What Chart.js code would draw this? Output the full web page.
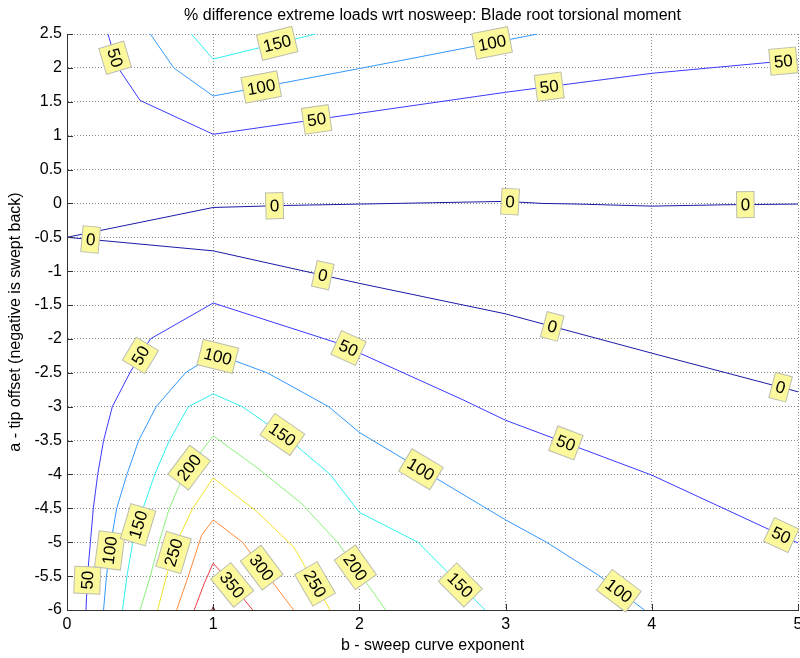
<!DOCTYPE html>
<html>
<head>
<meta charset="utf-8">
<title>Blade root torsional moment</title>
<script src="https://cdn.jsdelivr.net/npm/chart.js@4.4.0/dist/chart.umd.min.js"></script>
<style>
	html, body { margin: 0; padding: 0; background: #fff; }
	canvas { display: block; }
</style>
</head>
<body>
<canvas id="contourChart" width="800" height="658"></canvas>
<script>
const xTicks = [0, 1, 2, 3, 4, 5];
const yTicks = [2.5, 2, 1.5, 1, 0.5, 0, -0.5, -1, -1.5, -2, -2.5, -3, -3.5, -4, -4.5, -5, -5.5, -6];

// contour levels (% difference) and the jet colours used for them
const levels = [0, 50, 100, 150, 200, 250, 300, 350, 400];
const levelColors = ['#1a1aa8', '#3a3aff', '#3399ff', '#30f0f0', '#8cf07c', '#f2e22a', '#ff8a3a', '#f03c46', '#8b1a1a'];

// contour polylines as [b, a] pairs
const zeroUpper = [[0, -0.5], [1, -0.06], [1.5, -0.03], [2, -0.01], [2.5, 0.01], [3, 0.03], [3.25, 0.0], [3.5, -0.01], [4, -0.04], [4.5, -0.02], [5, -0.01]];
const zeroLower = [[0, -0.5], [1, -0.7], [2, -1.18], [3, -1.63], [4, -2.21], [5, -2.78]];
const fiftyTop = [[0.28, 2.5], [0.35, 2.0], [0.5, 1.52], [1, 1.02], [2, 1.33], [3, 1.64], [4, 1.92], [5, 2.12]];
const fiftyLow = [[0.13, -6], [0.14, -5.5], [0.16, -5], [0.18, -4.5], [0.21, -4], [0.25, -3.5], [0.31, -3], [0.43, -2.5], [0.57, -2], [1, -1.47], [1.85, -2.06], [2.71, -2.9], [3, -3.2], [4, -4.01], [5, -5.01]];
const hundredTop = [[0.57, 2.5], [0.73, 2.0], [1, 1.585], [2, 1.99], [3.22, 2.5]];
const hundredLow = [[0.25, -6], [0.27, -5.5], [0.3, -5], [0.34, -4.5], [0.41, -4], [0.49, -3.5], [0.61, -3], [0.81, -2.5], [1, -2.24], [1.13, -2.31], [1.37, -2.5], [1.79, -3], [2, -3.38], [3, -4.67], [3.28, -5], [3.63, -5.48], [3.95, -6]];
const oneFiftyTop = [[0.85, 2.5], [1, 2.13], [1.7, 2.5]];
const oneFiftyLow = [[0.38, -6], [0.41, -5.5], [0.45, -5], [0.52, -4.5], [0.6, -4], [0.7, -3.5], [0.83, -3], [1, -2.81], [1.2, -3.0], [1.5, -3.45], [1.8, -4.0], [2, -4.56], [2.4, -5], [2.86, -6]];
const twoHundred = [[0.5, -6], [0.57, -5.5], [0.63, -5], [0.7, -4.5], [0.8, -4], [1, -3.43], [1.3, -3.9], [1.6, -4.42], [1.85, -5], [2.18, -6]];
const twoFifty = [[0.62, -6], [0.68, -5.5], [0.75, -5], [0.86, -4.5], [1, -4.05], [1.3, -4.55], [1.55, -5.07], [1.8, -6]];
const threeHundred = [[0.75, -6], [0.83, -5.5], [0.92, -4.9], [1, -4.67], [1.2, -5.0], [1.55, -6]];
const threeFifty = [[0.87, -6], [0.94, -5.6], [1, -5.31], [1.1, -5.55], [1.27, -6]];
const fourHundred = [[0.99, -6], [1, -5.95], [1.01, -6]];

const contourLines = [
	[0, zeroUpper], [0, zeroLower],
	[50, fiftyTop], [50, fiftyLow],
	[100, hundredTop], [100, hundredLow],
	[150, oneFiftyTop], [150, oneFiftyLow],
	[200, twoHundred], [250, twoFifty], [300, threeHundred], [350, threeFifty], [400, fourHundred]
];

// where the clabel boxes sit: [line, b, a]
const labelSpots = [
	[fiftyTop, 0.33, 2.15], [fiftyTop, 1.71, 1.2], [fiftyTop, 3.30, 1.70], [fiftyTop, 4.90, 2.09],
	[hundredTop, 1.33, 1.70], [hundredTop, 2.91, 2.34],
	[oneFiftyTop, 1.44, 2.34],
	[zeroUpper, 1.42, -0.07], [zeroUpper, 3.03, 0.0], [zeroUpper, 4.64, -0.04],
	[zeroLower, 0.16, -0.57], [zeroLower, 1.75, -1.06], [zeroLower, 3.32, -1.81], [zeroLower, 4.88, -2.72],
	[fiftyLow, 0.5, -2.24], [fiftyLow, 1.92, -2.16], [fiftyLow, 3.42, -3.49], [fiftyLow, 4.88, -4.92], [fiftyLow, 0.14, -5.56],
	[hundredLow, 1.03, -2.27], [hundredLow, 2.43, -3.89], [hundredLow, 3.78, -5.7], [hundredLow, 0.29, -5.12],
	[oneFiftyLow, 1.47, -3.42], [oneFiftyLow, 0.5, -4.75], [oneFiftyLow, 2.69, -5.63],
	[twoHundred, 0.83, -3.89], [twoHundred, 1.92, -5.45],
	[twoFifty, 0.74, -5.16], [twoFifty, 1.66, -5.66],
	[threeHundred, 1.31, -5.41],
	[threeFifty, 1.13, -5.63]
];

const FONT = '"Liberation Sans", Arial, Helvetica, sans-serif';
const titleText = '% difference extreme loads wrt nosweep: Blade root torsional moment';

function levelOf(pts) {
	return contourLines.find(([, line]) => line === pts)[0];
}

// yellow boxed level labels, rotated along the contour
const contourLabels = {
	id: 'contourLabels',
	afterDatasetsDraw(chart) {
		const ctx = chart.ctx;
		const xs = chart.scales.x;
		const ys = chart.scales.y;
		ctx.save();
		ctx.font = '17px ' + FONT;
		ctx.textAlign = 'center';
		ctx.textBaseline = 'middle';
		labelSpots.forEach(([pts, lx, ly]) => {
			const px = pts.map(([x, y]) => [xs.getPixelForValue(x), ys.getPixelForValue(y)]);
			const tx = xs.getPixelForValue(lx);
			const ty = ys.getPixelForValue(ly);
			// snap onto the nearest segment and follow its direction
			let best = null;
			for (let i = 0; i < px.length - 1; i++) {
				const [x1, y1] = px[i];
				const [x2, y2] = px[i + 1];
				const dx = x2 - x1, dy = y2 - y1;
				const len2 = dx * dx + dy * dy;
				let t = len2 ? ((tx - x1) * dx + (ty - y1) * dy) / len2 : 0;
				t = Math.max(0, Math.min(1, t));
				const cx = x1 + t * dx, cy = y1 + t * dy;
				const d = (cx - tx) ** 2 + (cy - ty) ** 2;
				if (!best || d < best.d) best = { d, cx, cy, a: Math.atan2(dy, dx) };
			}
			let a = best.a;
			if (a > Math.PI / 2) a -= Math.PI;
			if (a < -Math.PI / 2) a += Math.PI;
			const text = String(levelOf(pts));
			const w = ctx.measureText(text).width + 8;
			const h = 26;
			ctx.save();
			ctx.translate(best.cx, best.cy);
			ctx.rotate(a);
			ctx.fillStyle = '#fbf99c';
			ctx.fillRect(-w / 2, -h / 2, w, h);
			ctx.strokeStyle = '#bdbdb0';
			ctx.lineWidth = 1;
			ctx.strokeRect(-w / 2, -h / 2, w, h);
			ctx.fillStyle = '#000';
			ctx.fillText(text, 0, 1);
			ctx.restore();
		});
		ctx.restore();
	}
};

// inward tick marks and the title
const axesDecor = {
	id: 'axesDecor',
	afterDraw(chart) {
		const ctx = chart.ctx;
		const { left, right, top, bottom } = chart.chartArea;
		const xs = chart.scales.x;
		const ys = chart.scales.y;
		ctx.save();
		ctx.strokeStyle = '#333';
		ctx.lineWidth = 1;
		ctx.beginPath();
		xTicks.forEach(v => {
			const x = Math.round(xs.getPixelForValue(v)) + 0.5;
			ctx.moveTo(x, bottom);
			ctx.lineTo(x, bottom - 6);
		});
		yTicks.forEach(v => {
			const y = Math.round(ys.getPixelForValue(v)) + 0.5;
			ctx.moveTo(left, y);
			ctx.lineTo(left + 6, y);
		});
		ctx.stroke();
		ctx.fillStyle = '#000';
		ctx.font = '16px ' + FONT;
		ctx.textAlign = 'center';
		ctx.textBaseline = 'middle';
		ctx.fillText(titleText, (left + right) / 2, top - 18);
		ctx.restore();
	}
};

const datasets = contourLines.map(([lvl, pts]) => ({
	data: pts.map(([x, y]) => ({ x, y })),
	borderColor: levelColors[levels.indexOf(lvl)],
	borderWidth: 1,
	pointRadius: 0,
	showLine: true,
	fill: false,
	tension: 0
}));

const config = {
	type: 'scatter',
	data: { datasets },
	options: {
		responsive: false,
		animation: false,
		layout: { padding: { top: 34, right: 2, bottom: 0, left: 0 } },
		plugins: {
			legend: { display: false },
			tooltip: { enabled: false }
		},
		scales: {
			x: {
				type: 'linear',
				min: 0,
				max: 5,
				afterBuildTicks: s => { s.ticks = xTicks.map(v => ({ value: v })); },
				afterFit: s => { s.height = 48; s.paddingLeft = 0; s.paddingRight = 0; },
				ticks: {
					color: '#000',
					font: { family: FONT, size: 16 },
					padding: 5,
					maxRotation: 0,
					autoSkip: false,
					callback: v => String(v)
				},
				grid: { color: '#8c8c8c', lineWidth: 1, drawTicks: false },
				border: { display: true, color: '#333', width: 1, dash: [1, 2] },
				title: {
					display: true,
					text: 'b - sweep curve exponent',
					color: '#000',
					font: { family: FONT, size: 16 },
					padding: { top: 0, bottom: 3 }
				}
			},
			y: {
				type: 'linear',
				min: -6,
				max: 2.5,
				afterBuildTicks: s => { s.ticks = yTicks.map(v => ({ value: v })); },
				afterFit: s => { s.width = 67; s.paddingTop = 0; s.paddingBottom = 0; },
				ticks: {
					color: '#000',
					font: { family: FONT, size: 16 },
					padding: 5,
					autoSkip: false,
					callback: v => String(v)
				},
				grid: { color: '#8c8c8c', lineWidth: 1, drawTicks: false },
				border: { display: true, color: '#333', width: 1, dash: [1, 2] },
				title: {
					display: true,
					text: 'a - tip offset (negative is swept back)',
					color: '#000',
					font: { family: FONT, size: 16 },
					padding: { top: 6, bottom: 0 }
				}
			}
		}
	},
	plugins: [contourLabels, axesDecor]
};

new Chart(document.getElementById('contourChart'), config);
</script>
</body>
</html>
